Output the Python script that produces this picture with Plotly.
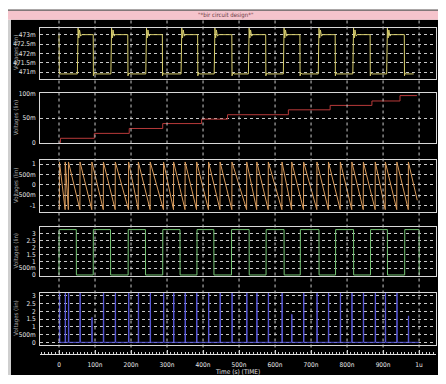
import plotly.graph_objects as go

W, H = 446, 384

# ---------------- data (time in ns, values in V) ----------------
x_tick_ns = [0, 100, 200, 300, 400, 500, 600, 700, 800, 900, 1000]
x_tick_text = ["0", "100n", "200n", "300n", "400n", "500n", "600n", "700n", "800n", "900n", "1u"]

# panel 1 : clock-like node (yellow)
sig1_rise_ns = [51, 144, 241, 339, 431, 526, 623, 720, 816, 910]
sig1_fall_ns = [95, 191, 287, 385, 480, 574, 669, 767, 864, 959]
sig1_high = 0.4730
sig1_low = 0.4709
sig1_ring_dt = [2, 4, 6, 9, 12]
sig1_ring_v = [0.47335, 0.47282, 0.47325, 0.47292, 0.47300]
sig1_end_ns = 985

# panel 2 : staircase (red)
sig2_step_ns = [0, 4, 98, 195, 288, 396, 468, 637, 753, 869, 947]
sig2_level = [0.0, 0.009, 0.019, 0.029, 0.039, 0.048, 0.057, 0.067, 0.076, 0.085, 0.096]
sig2_end_ns = 994

# panel 3 : sawtooth (orange)
sig3_rise_ns = [1, 17, 26, 58, 91, 123, 156, 193, 220, 253, 290, 318, 350, 382, 415, 447,
                480, 521, 549, 581, 619, 646, 679, 716, 748, 781, 813, 845, 878, 906, 938, 970]
sig3_top = 1.10
sig3_bottom = -1.20
sig3_end_ns = 995
sig3_end_v = -0.75

# panel 4 : pulse train (green)
sig4_rise_ns = [0, 95, 192, 288, 383, 479, 575, 670, 768, 865, 960]
sig4_fall_ns = [48, 143, 240, 336, 430, 528, 625, 722, 818, 912, 1000]
sig4_high = 3.3
sig4_low = 0.0

# panel 5 : spikes (blue)
sig5_spike_ns = [1, 17, 26, 58, 91, 123, 156, 193, 220, 253, 290, 318, 350, 382, 415, 447,
                 480, 521, 549, 581, 619, 646, 679, 716, 748, 781, 813, 845, 878, 906, 938, 970]
sig5_peak = [3.3, 3.3, 3.3, 3.3, 1.6, 3.3, 3.3, 3.3, 3.3, 3.3, 3.3, 3.3, 3.3, 3.3, 3.3, 3.3,
             3.3, 3.3, 3.3, 3.3, 3.3, 1.8, 3.3, 3.3, 3.3, 3.3, 3.3, 3.3, 3.3, 3.3, 3.3, 1.7]
sig5_end_ns = 1000

# ---------------- build waveforms from the read values ----------------
x1, y1 = [0, 1], [sig1_high, sig1_low]
for r, f in zip(sig1_rise_ns, sig1_fall_ns):
    x1 += [r, r + 0.5]
    y1 += [sig1_low, sig1_high]
    x1 += [r + d for d in sig1_ring_dt]
    y1 += sig1_ring_v
    x1 += [f, f + 0.5, f + 3, f + 6]
    y1 += [sig1_high, sig1_low - 0.0001, sig1_low + 0.00005, sig1_low]
x1.append(sig1_end_ns)
y1.append(sig1_low)

x2, y2 = [], []
for i, (t, v) in enumerate(zip(sig2_step_ns, sig2_level)):
    x2.append(t)
    y2.append(v)
    t_next = sig2_step_ns[i + 1] if i + 1 < len(sig2_step_ns) else sig2_end_ns
    x2.append(t_next)
    y2.append(v)

x3, y3 = [], []
for r in sig3_rise_ns:
    x3 += [r, r + 0.3]
    y3 += [sig3_bottom, sig3_top]
x3.append(sig3_end_ns)
y3.append(sig3_end_v)

x4, y4 = [], []
for r, f in zip(sig4_rise_ns, sig4_fall_ns):
    x4 += [r, r + 0.3, f, f + 0.3]
    y4 += [sig4_low, sig4_high, sig4_high, sig4_low]

x5, y5 = [0], [0]
for s, p in zip(sig5_spike_ns, sig5_peak):
    x5 += [s, s + 0.3, s + 1.0, s + 1.3]
    y5 += [0, p, p, 0]
x5.append(sig5_end_ns)
y5.append(0)

# ---------------- figure ----------------
def py(px):
    return 1 - px / H

def pxx(px):
    return px / W

FONT = "Liberation Sans Narrow, DejaVu Sans Condensed, Arial Narrow, sans-serif"
BOX = "#d8d8d8"
GRID = "#c8c8c8"

panels = [
    dict(x=x1, y=y1, color="#d6cc6c", top=25, bot=77, rng=[0.47065, 0.47338],
         tv=[0.471, 0.4715, 0.472, 0.4725, 0.473], tt=["471m", "471.5m", "472m", "472.5m", "473m"]),
    dict(x=x2, y=y2, color="#b83a3a", top=92, bot=143, rng=[-0.0014, 0.1006],
         tv=[0, 0.05, 0.1], tt=["0", "50m", "100m"]),
    dict(x=x3, y=y3, color="#d89a5a", top=160, bot=213, rng=[-1.32, 1.19],
         tv=[-1, -0.5, 0, 0.5, 1], tt=["-1", "-500m", "0", "500m", "1"]),
    dict(x=x4, y=y4, color="#74c474", top=228, bot=278, rng=[-0.07, 3.5],
         tv=[0, 0.5, 1, 1.5, 2, 2.5, 3], tt=["0", "500m", "1", "1.5", "2", "2.5", "3"]),
    dict(x=x5, y=y5, color="#5858d8", top=295, bot=348, rng=[-0.15, 3.2],
         tv=[0, 0.5, 1, 1.5, 2, 2.5, 3], tt=["0", "500m", "1", "1.5", "2", "2.5", "3"]),
]

XR = [-52.8, 1047]
XDOM = [pxx(40), pxx(436)]

fig = go.Figure()
layout = dict(
    width=W, height=H, margin=dict(l=0, r=0, t=0, b=0),
    paper_bgcolor="white", plot_bgcolor="rgba(0,0,0,0)",
    showlegend=False, font=dict(family=FONT, size=7, color="#e0e0e0"),
)
annotations = []
for i, p in enumerate(panels, start=1):
    sfx = "" if i == 1 else str(i)
    fig.add_trace(go.Scatter(x=p["x"], y=p["y"], mode="lines",
                             line=dict(color=p["color"], width=1),
                             xaxis="x" + sfx, yaxis="y" + sfx, hoverinfo="skip"))
    layout["xaxis" + sfx] = dict(domain=XDOM, range=XR, anchor="y" + sfx,
                                 showticklabels=False, ticks="", showgrid=False, zeroline=False,
                                 showline=True, mirror=True, linecolor=BOX, linewidth=1)
    layout["yaxis" + sfx] = dict(domain=[py(p["bot"]), py(p["top"])], range=p["rng"],
                                 anchor="x" + sfx, tickvals=p["tv"], ticktext=p["tt"],
                                 showgrid=True, gridcolor=GRID, griddash="dot", gridwidth=1,
                                 zeroline=False, showline=True, mirror=True, linecolor=BOX,
                                 linewidth=1, ticks="", ticklabelstandoff=2,
                                 tickfont=dict(family=FONT, size=6.5, color="#e8e8e8"))
    annotations.append(dict(x=pxx(16), y=py((p["top"] + p["bot"]) / 2), xref="paper", yref="paper",
                            xanchor="center", yanchor="middle",
                            text="Voltages (lin)", textangle=-90, showarrow=False,
                            font=dict(family=FONT, size=6, color="#a8a8a8")))

# bottom time axis
fig.add_trace(go.Scatter(x=[0], y=[0], mode="lines", xaxis="x6", yaxis="y6",
                         line=dict(width=0), hoverinfo="skip"))
layout["xaxis6"] = dict(domain=XDOM, range=XR, anchor="y6", tickvals=x_tick_ns, ticktext=x_tick_text,
                        showgrid=False, zeroline=False, showline=True, linecolor="#e0e0e0",
                        linewidth=1, ticks="inside", ticklen=4, tickcolor="#e0e0e0",
                        ticklabelstandoff=4,
                        minor=dict(dtick=10, ticks="inside", ticklen=2, tickcolor="#cfcfcf"),
                        tickfont=dict(family=FONT, size=6.5, color="#e8e8e8"))
layout["yaxis6"] = dict(domain=[py(358), py(352)], range=[0, 1], visible=False)

annotations.append(dict(x=pxx(237), y=py(375.5), xref="paper", yref="paper",
                        xanchor="center", yanchor="middle",
                        text="Time (s) (TIME)", showarrow=False,
                        font=dict(family=FONT, size=6.5, color="#e0e0e0")))
annotations.append(dict(x=pxx(225), y=py(12.5), xref="paper", yref="paper",
                        xanchor="center", yanchor="middle",
                        text='"*bir circuit design*"', showarrow=False,
                        font=dict(family=FONT, size=6, color="#6a3a44")))

shapes = [
    dict(type="rect", xref="paper", yref="paper", x0=pxx(8), x1=pxx(438), y0=py(379), y1=py(17),
         fillcolor="#cfcfcf", line=dict(width=0), layer="below"),
    dict(type="rect", xref="paper", yref="paper", x0=pxx(11), x1=pxx(438), y0=py(379), y1=py(17),
         fillcolor="black", line=dict(width=0), layer="below"),
    dict(type="rect", xref="paper", yref="paper", x0=pxx(8), x1=pxx(438), y0=py(17), y1=py(8),
         fillcolor="#f5c4cc", line=dict(width=0), layer="below"),
    dict(type="rect", xref="paper", yref="paper", x0=pxx(8), x1=pxx(438), y0=py(8), y1=py(6.5),
         fillcolor="#585050", line=dict(width=0), layer="below"),
]
for t in x_tick_ns:
    shapes.append(dict(type="line", xref="x6", yref="paper", x0=t, x1=t, y0=py(357), y1=py(17),
                       line=dict(color=GRID, width=1, dash="dot"), layer="above"))

layout["annotations"] = annotations
layout["shapes"] = shapes
fig.update_layout(**layout)
fig.write_html("out.html", config={"displayModeBar": False},
               post_script="document.body.style.margin='0';document.body.style.overflow='hidden';")
